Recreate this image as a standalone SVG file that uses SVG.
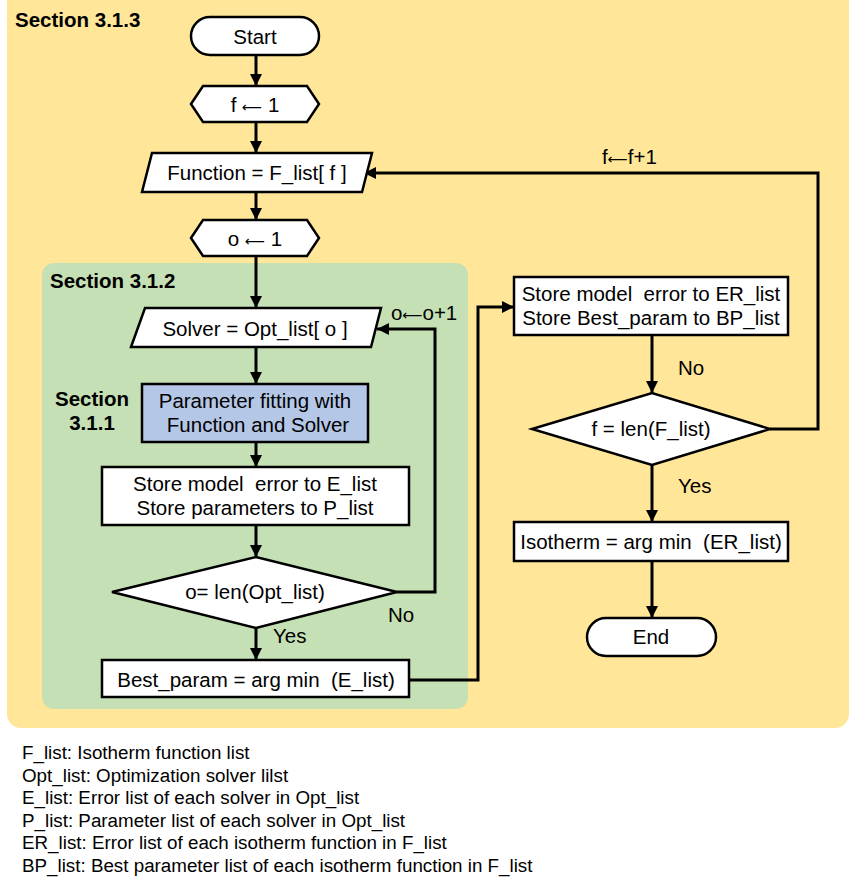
<svg xmlns="http://www.w3.org/2000/svg" width="850" height="889" viewBox="0 0 850 889">
  <style>
    .shape { fill: #ffffff; stroke: #000000; stroke-width: 2.5; }
    .t { font-family: "Liberation Sans", Arial, sans-serif; font-size: 20.5px; fill: #000000; text-anchor: middle; }
    .b { font-family: "Liberation Sans", Arial, sans-serif; font-size: 20.5px; font-weight: bold; fill: #000000; }
    .lbl { font-family: "Liberation Sans", Arial, sans-serif; font-size: 20.5px; fill: #000000; }
    .leg { font-family: "Liberation Sans", Arial, sans-serif; font-size: 18.8px; fill: #000000; }
    .ar { font-family: "DejaVu Sans", sans-serif; }
    .wire { fill: none; stroke: #000000; stroke-width: 3; }
  </style>
  <defs>
    <marker id="arrow" viewBox="0 0 10 10" refX="10" refY="5" markerWidth="4.2" markerHeight="4" markerUnits="strokeWidth" orient="auto">
      <path d="M0,0 L10,5 L0,10 Z" fill="#000000"/>
    </marker>
  </defs>

  <!-- section containers -->
  <g id="section-313">
    <rect x="7" y="-12" width="842" height="740" rx="14" fill="#FFE699"/>
    <text class="b" x="15" y="27">Section 3.1.3</text>
  </g>
  <g id="section-312">
    <rect x="42" y="263" width="426" height="446" rx="12" fill="#C5E0B4"/>
    <text class="b" x="50" y="288">Section 3.1.2</text>
  </g>

  <!-- connectors -->
  <g id="connectors">
    <line class="wire" x1="256" y1="56" x2="256" y2="86" marker-end="url(#arrow)"/>
    <line class="wire" x1="256" y1="122" x2="256" y2="153" marker-end="url(#arrow)"/>
    <line class="wire" x1="256" y1="192" x2="256" y2="220" marker-end="url(#arrow)"/>
    <line class="wire" x1="256" y1="256" x2="256" y2="308" marker-end="url(#arrow)"/>
    <line class="wire" x1="256" y1="347" x2="256" y2="384" marker-end="url(#arrow)"/>
    <line class="wire" x1="256" y1="442" x2="256" y2="467" marker-end="url(#arrow)"/>
    <line class="wire" x1="256" y1="525" x2="256" y2="557" marker-end="url(#arrow)"/>
    <line class="wire" x1="256" y1="628" x2="256" y2="660" marker-end="url(#arrow)"/>
    <polyline class="wire" points="397,592 435,592 435,329 377,329" marker-end="url(#arrow)"/>
    <polyline class="wire" points="409,680 478,680 478,307 514,307" marker-end="url(#arrow)"/>
    <line class="wire" x1="652" y1="335" x2="652" y2="393" marker-end="url(#arrow)"/>
    <polyline class="wire" points="770,429 818,429 818,173 364,173" marker-end="url(#arrow)"/>
    <line class="wire" x1="652" y1="465" x2="652" y2="522" marker-end="url(#arrow)"/>
    <line class="wire" x1="652" y1="561" x2="652" y2="618" marker-end="url(#arrow)"/>
    <text class="lbl" x="391" y="320">o<tspan class="ar" font-size="14">⟵</tspan>o+1</text>
    <text class="lbl" x="388" y="622">No</text>
    <text class="lbl" x="273" y="643">Yes</text>
    <text class="lbl" x="602" y="164">f<tspan class="ar" font-size="14">⟵</tspan>f+1</text>
    <text class="lbl" x="678" y="375">No</text>
    <text class="lbl" x="678" y="493">Yes</text>
  </g>

  <!-- nodes -->
  <g id="start">
    <rect class="shape" x="191" y="17" width="128" height="38" rx="19"/>
    <text class="t" x="255" y="44">Start</text>
  </g>
  <g id="init-f">
    <polygon class="shape" points="191,104 203,86 307,86 319,104 307,122 203,122"/>
    <text class="t" x="255" y="112">f <tspan class="ar" font-size="14">⟵</tspan> 1</text>
  </g>
  <g id="pick-function">
    <polygon class="shape" points="152,153 372,153 362,192 142,192"/>
    <text class="t" x="257" y="180">Function = F_list[ f ]</text>
  </g>
  <g id="init-o">
    <polygon class="shape" points="191,238 203,220 307,220 319,238 307,256 203,256"/>
    <text class="t" x="255" y="246">o <tspan class="ar" font-size="14">⟵</tspan> 1</text>
  </g>
  <g id="pick-solver">
    <polygon class="shape" points="145,308 381,308 371,347 131,347"/>
    <text class="t" x="255" y="336">Solver = Opt_list[ o ]</text>
  </g>
  <g id="fitting">
    <rect x="142" y="384" width="226" height="58" fill="#B4C7E7" stroke="#000000" stroke-width="2.5"/>
    <text class="t" x="255" y="408">Parameter fitting with</text>
    <text class="t" x="258" y="432">Function and Solver</text>
    <text class="b" x="92" y="406" text-anchor="middle">Section</text>
    <text class="b" x="92" y="430" text-anchor="middle">3.1.1</text>
  </g>
  <g id="store-solver">
    <rect class="shape" x="102" y="467" width="307" height="58"/>
    <text class="t" x="255" y="491">Store model&#160; error to E_list</text>
    <text class="t" x="255" y="515">Store parameters to P_list</text>
  </g>
  <g id="check-o">
    <polygon class="shape" points="112,592 256,557 397,592 256,628"/>
    <text class="t" x="255" y="599">o= len(Opt_list)</text>
  </g>
  <g id="best-param">
    <rect class="shape" x="102" y="660" width="307" height="37"/>
    <text class="t" x="256" y="687">Best_param = arg min&#160; (E_list)</text>
  </g>
  <g id="store-function">
    <rect class="shape" x="514" y="277" width="274" height="58"/>
    <text class="t" x="651" y="301">Store model&#160; error to ER_list</text>
    <text class="t" x="651" y="325">Store Best_param to BP_list</text>
  </g>
  <g id="check-f">
    <polygon class="shape" points="532,429 652,393 770,429 652,465"/>
    <text class="t" x="651" y="436">f = len(F_list)</text>
  </g>
  <g id="isotherm">
    <rect class="shape" x="514" y="522" width="274" height="39"/>
    <text class="t" x="651" y="549">Isotherm = arg min&#160; (ER_list)</text>
  </g>
  <g id="end">
    <rect class="shape" x="587" y="618" width="129" height="38" rx="19"/>
    <text class="t" x="651" y="644">End</text>
  </g>

  <!-- legend -->
  <g id="legend">
    <text class="leg" x="22" y="759">F_list: Isotherm function list</text>
    <text class="leg" x="22" y="782">Opt_list: Optimization solver lilst</text>
    <text class="leg" x="22" y="804">E_list: Error list of each solver in Opt_list</text>
    <text class="leg" x="22" y="827">P_list: Parameter list of each solver in Opt_list</text>
    <text class="leg" x="22" y="849">ER_list: Error list of each isotherm function in F_list</text>
    <text class="leg" x="22" y="872">BP_list: Best parameter list of each isotherm function in F_list</text>
  </g>
</svg>
